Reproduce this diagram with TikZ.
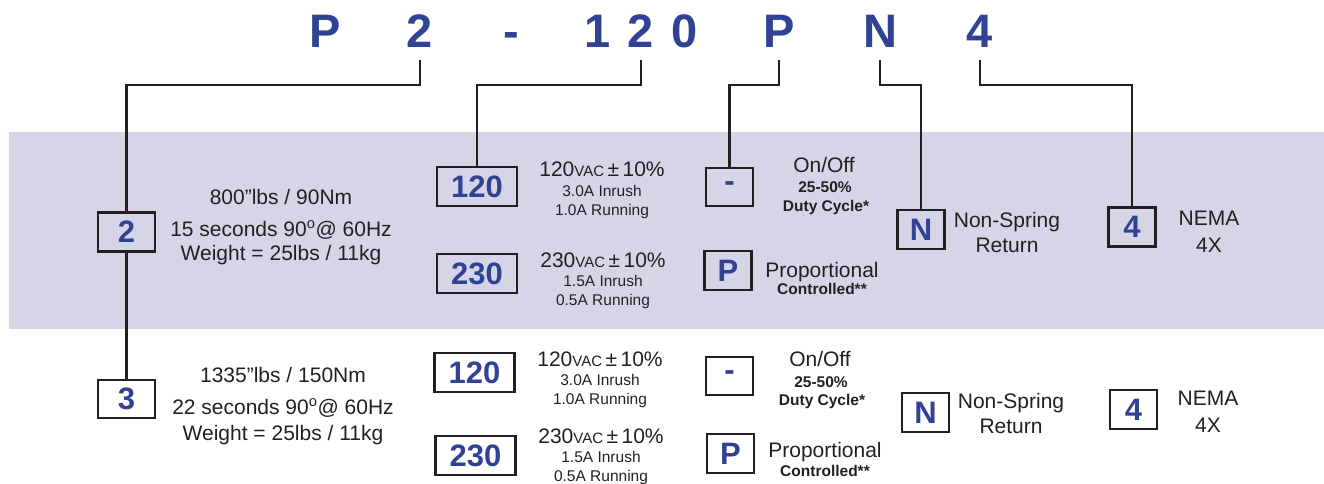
\documentclass[tikz,border=0pt]{standalone}
\usepackage{fontspec}
\setmainfont{Liberation Sans}
\usepackage{xcolor}
\usetikzlibrary{positioning}

\definecolor{codeblue}{RGB}{48,66,148}
\definecolor{ink}{RGB}{35,31,32}
\definecolor{band}{RGB}{214,213,231}

\begin{document}
\begin{tikzpicture}[
    x=1pt, y=-1pt,
    code/.style={font=\fontsize{47}{47}\selectfont\bfseries, text=codeblue, inner sep=0, outer sep=13pt, anchor=base},
    opt/.style={draw=ink, line width=2.6pt, inner sep=0, minimum width=47pt, minimum height=39pt, font=\fontsize{31}{31}\selectfont\bfseries, text=codeblue},
    wide/.style={opt, minimum width=80pt},
    txt/.style={font=\fontsize{21}{21}\selectfont, text=ink, inner sep=0, anchor=base},
    sm/.style={txt, font=\fontsize{15.5}{15.5}\selectfont},
    smb/.style={txt, font=\fontsize{15.5}{15.5}\selectfont\bfseries},
    link/.style={draw=ink, line width=2.6pt},
  ]
    \useasboundingbox (0,0) rectangle (1324,483);
    \fill[band] (9,132) rectangle (1324,329);

    % model code
    \node[code] (lP) at (325,47) {P};
    \node[code] (l2) at (420,47) {2};
    \node[code] (ldash) at (511,47) {-};
    \node[code] (l120) at (641,47) {1\hspace{17pt}2\hspace{17pt}0};
    \node[code] (lsig) at (779,47) {P};
    \node[code] (lN) at (880,47) {N};
    \node[code] (l4) at (980,47) {4};
    \coordinate (bus) at (0,85);

    % shaded row
    \node[opt, minimum width=57pt] (b2) at (126.5,232) {2};
    \node[txt] at (281,204) {800”lbs / 90Nm};
    \node[txt] at (281,236) {15 seconds 90\textsuperscript{o}@ 60Hz};
    \node[txt] at (281,260) {Weight = 25lbs / 11kg};

    \node[wide] (b120) at (477,186.5) {120};
    \node[txt] at (602,176) {120{\fontsize{15}{15}\selectfont VAC}\,±\,10\%};
    \node[sm] at (602,196) {3.0A Inrush};
    \node[sm] at (602,215) {1.0A Running};
    \node[wide] (b230) at (477,273.5) {230};
    \node[txt] at (603,267) {230{\fontsize{15}{15}\selectfont VAC}\,±\,10\%};
    \node[sm] at (603,286) {1.5A Inrush};
    \node[sm] at (603,305) {0.5A Running};

    \node[opt, minimum height=38pt] (boff) at (729.5,187) {-};
    \node[txt] at (824,172) {On/Off};
    \node[smb] at (825,192) {25-50\%};
    \node[smb] at (826,211) {Duty Cycle*};
    \node[opt] (bprop) at (728,270.5) {P};
    \node[txt] at (822,277) {Proportional};
    \node[smb] at (822,294) {Controlled**};

    \node[opt] (bN) at (921,229.5) {N};
    \node[txt] at (1007,227) {Non-Spring};
    \node[txt] at (1007,252) {Return};
    \node[opt] (b4) at (1132,227) {4};
    \node[txt] at (1209,225) {NEMA};
    \node[txt] at (1209,252) {4X};

    % white row
    \node[opt, minimum width=57pt, minimum height=38pt] (b3) at (126.5,399) {3};
    \node[txt] at (283,382) {1335”lbs / 150Nm};
    \node[txt] at (283,414) {22 seconds 90\textsuperscript{o}@ 60Hz};
    \node[txt] at (283,440) {Weight = 25lbs / 11kg};

    \node[wide] (c120) at (474.5,372.5) {120};
    \node[txt] at (600,366) {120{\fontsize{15}{15}\selectfont VAC}\,±\,10\%};
    \node[sm] at (600,385) {3.0A Inrush};
    \node[sm] at (600,404) {1.0A Running};
    \node[wide] (c230) at (475.5,455.5) {230};
    \node[txt] at (601,443) {230{\fontsize{15}{15}\selectfont VAC}\,±\,10\%};
    \node[sm] at (601,462) {1.5A Inrush};
    \node[sm] at (601,481) {0.5A Running};

    \node[opt, minimum height=38pt] (coff) at (729.5,376) {-};
    \node[txt] at (820,366) {On/Off};
    \node[smb] at (821,387) {25-50\%};
    \node[smb] at (822,405) {Duty Cycle*};
    \node[opt] (cprop) at (730.5,453.5) {P};
    \node[txt] at (825,457) {Proportional};
    \node[smb] at (825,476) {Controlled**};

    \node[opt] (cN) at (925.5,412.5) {N};
    \node[txt] at (1011,408) {Non-Spring};
    \node[txt] at (1011,433) {Return};
    \node[opt] (c4) at (1133.5,409.5) {4};
    \node[txt] at (1208,405) {NEMA};
    \node[txt] at (1208,432) {4X};

    % leaders
    \draw[link] (l2.south) -- (l2.south |- bus) -| (b2.north);
    \draw[link] (b2.south) -- (b3.north);
    \draw[link] (l120.south) -- (l120.south |- bus) -| (b120.north);
    \draw[link] (lsig.south) -- (lsig.south |- bus) -| (boff.north);
    \draw[link] (lN.south) -- (lN.south |- bus) -| (bN.north);
    \draw[link] (l4.south) -- (l4.south |- bus) -| (b4.north);
\end{tikzpicture}
\end{document}
